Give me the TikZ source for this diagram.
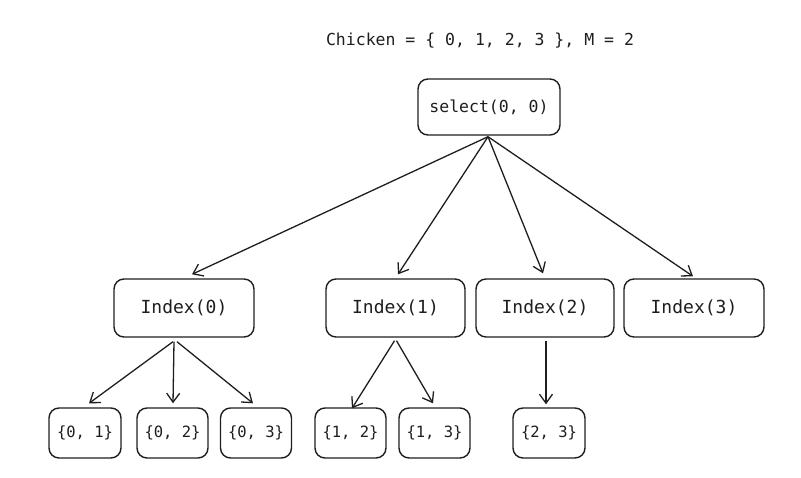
\documentclass[tikz,border=0pt]{standalone}
\usepackage{fontspec}
\setmonofont{DejaVu Sans Mono}
\usetikzlibrary{arrows.meta,calc}
\definecolor{ink}{HTML}{1E1E1E}
\tikzset{
  box/.style={draw=ink, line width=1.4pt, rounded corners=10pt, inner sep=0pt, text=ink},
  topbox/.style={box, minimum width=142pt, minimum height=56pt, font=\ttfamily\fontsize{16.5}{19}\selectfont},
  idxbox/.style={box, minimum width=140pt, minimum height=58pt, font=\ttfamily\fontsize{18}{20}\selectfont},
  leafbox/.style={box, minimum width=71pt, minimum height=50pt, font=\ttfamily\fontsize{15.5}{18}\selectfont},
  arr/.style={draw=ink, line width=1.3pt, -{Straight Barb[length=9pt,width=13pt,line width=1.3pt]}},
  titletext/.style={text=ink, font=\ttfamily\fontsize{16.5}{19}\selectfont, inner sep=0pt}
}
\begin{document}
\begin{tikzpicture}[x=1pt,y=-1pt]
\useasboundingbox (0,0) rectangle (801,477);
\node[titletext] (title) at (480,41) {Chicken = \{ 0, 1, 2, 3 \}, M = 2};
\node[topbox] (s) at (489,107) {select(0, 0)};
\node[idxbox] (i0) at (184,308) {Index(0)};
\node[idxbox, minimum width=139pt] (i1) at (395.5,308) {Index(1)};
\node[idxbox, minimum width=138pt] (i2) at (545,308) {Index(2)};
\node[idxbox] (i3) at (694,308) {Index(3)};
\node[leafbox, minimum width=72pt] (l01) at (85,433) {\{0, 1\}};
\node[leafbox] (l02) at (172.5,433) {\{0, 2\}};
\node[leafbox] (l03) at (256,433) {\{0, 3\}};
\node[leafbox] (l12) at (350.5,433) {\{1, 2\}};
\node[leafbox] (l13) at (434.5,433) {\{1, 3\}};
\node[leafbox, minimum width=72pt] (l23) at (549,433) {\{2, 3\}};
% from select
\draw[arr] ($(s.south)+(-1,1)$) -- ($(i0.north)+(8,-4)$);
\draw[arr] ($(s.south)+(-1,1)$) -- ($(i1.north)+(2.5,-4)$);
\draw[arr] ($(s.south)+(-1,1)$) -- ($(i2.north)+(-2,-5)$);
\draw[arr] ($(s.south)+(-1,1)$) -- ($(i3.north)+(-1,-2)$);
% from Index(0)
\draw[arr] ($(i0.south)+(-11,4)$) -- ($(l01.north)+(4,-4)$);
\draw[arr] ($(i0.south)+(-10,4)$) -- ($(l02.north)+(0.5,-4)$);
\draw[arr] ($(i0.south)+(-7,4)$) -- ($(l03.north)+(-3,-4)$);
% from Index(1)
\draw[arr] ($(i1.south)+(-1,3)$) -- ($(l12.north)+(1.5,1)$);
\draw[arr] ($(i1.south)+(1,3)$) -- ($(l13.north)+(-1.5,-4)$);
% from Index(2)
\draw[arr] ($(i2.south)+(1,3)$) -- ($(l23.north)+(-3,-3)$);
\end{tikzpicture}
\end{document}
